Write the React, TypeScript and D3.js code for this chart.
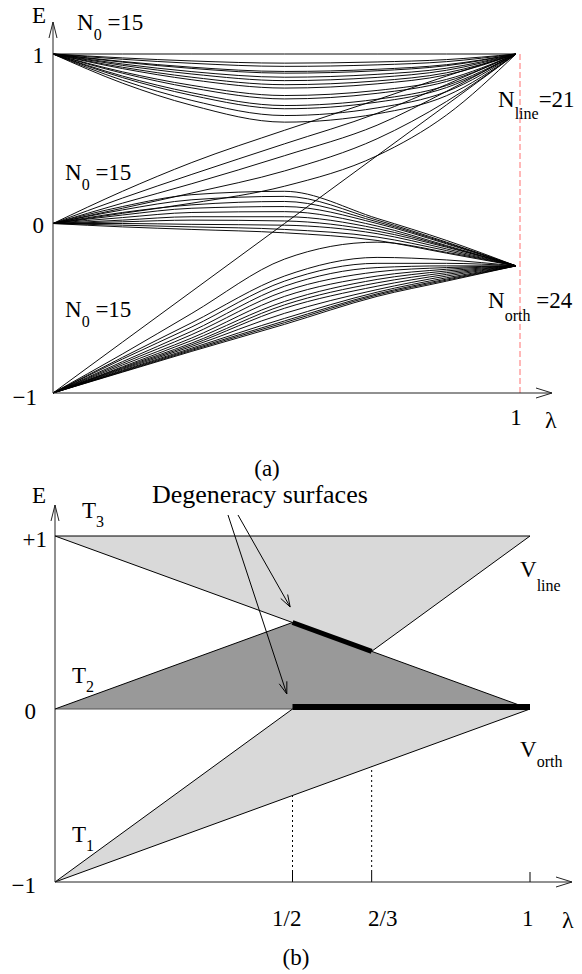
import React from "react";
import * as d3 from "d3";

// lambda grid the levels were read at
const LAMBDA = [0, 0.15, 0.3, 0.5, 0.7, 0.85, 1];

// levels starting at E = 1 (all return to E = 1)
const upperLevels = [
  [1, 1, 1, 1, 1, 1, 1],
  [1, 0.977, 0.959, 0.946, 0.953, 0.967, 1],
  [1, 0.969, 0.945, 0.927, 0.936, 0.955, 1],
  [1, 0.956, 0.922, 0.897, 0.91, 0.937, 1],
  [1, 0.952, 0.915, 0.887, 0.901, 0.931, 1],
  [1, 0.941, 0.896, 0.863, 0.88, 0.916, 1],
  [1, 0.933, 0.882, 0.843, 0.862, 0.904, 1],
  [1, 0.922, 0.863, 0.819, 0.841, 0.889, 1],
  [1, 0.914, 0.848, 0.799, 0.824, 0.877, 1],
  [1, 0.895, 0.815, 0.755, 0.785, 0.85, 1],
  [1, 0.887, 0.8, 0.735, 0.768, 0.838, 1],
  [1, 0.87, 0.771, 0.696, 0.733, 0.814, 1],
  [1, 0.861, 0.756, 0.677, 0.716, 0.802, 1],
  [1, 0.845, 0.726, 0.637, 0.682, 0.778, 1],
  [1, 0.828, 0.697, 0.598, 0.647, 0.754, 1],
];

// levels starting at E = 0 that end at E = 1
const middleRising = [
  [0, 0.19, 0.36, 0.55, 0.73, 0.87, 1],
  [0, 0.15, 0.29, 0.47, 0.65, 0.82, 1],
  [0, 0.12, 0.235, 0.4, 0.58, 0.78, 1],
  [0, 0.09, 0.18, 0.31, 0.5, 0.72, 1],
  [0, 0.06, 0.12, 0.22, 0.4, 0.64, 1],
];

// levels starting at E = 0 that end at E = -1/4
const middleFalling = [
  [0, 0.1, 0.17, 0.19, 0.03, -0.1, -0.25],
  [0, 0.08, 0.14, 0.16, 0.02, -0.11, -0.25],
  [0, 0.065, 0.11, 0.13, 0.01, -0.115, -0.25],
  [0, 0.05, 0.09, 0.1, 0, -0.12, -0.25],
  [0, 0.035, 0.065, 0.07, -0.015, -0.13, -0.25],
  [0, 0.02, 0.04, 0.04, -0.03, -0.135, -0.25],
  [0, 0.01, 0.02, 0.015, -0.045, -0.14, -0.25],
  [0, 0, -0.005, -0.01, -0.06, -0.15, -0.25],
  [0, -0.01, -0.02, -0.035, -0.08, -0.16, -0.25],
  [0, -0.02, -0.035, -0.055, -0.1, -0.175, -0.25],
];

// levels starting at E = -1
const lowerLevels = [
  [-1, -0.77, -0.53, -0.21, -0.11, -0.17, -0.25],
  [-1, -0.79, -0.585, -0.31, -0.2, -0.215, -0.25],
  [-1, -0.8, -0.61, -0.34, -0.235, -0.235, -0.25],
  [-1, -0.815, -0.635, -0.37, -0.26, -0.25, -0.25],
  [-1, -0.825, -0.655, -0.4, -0.285, -0.26, -0.25],
  [-1, -0.835, -0.675, -0.43, -0.31, -0.27, -0.25],
  [-1, -0.845, -0.69, -0.46, -0.33, -0.28, -0.25],
  [-1, -0.85, -0.705, -0.48, -0.35, -0.29, -0.25],
  [-1, -0.855, -0.715, -0.5, -0.37, -0.3, -0.25],
  [-1, -0.86, -0.725, -0.53, -0.39, -0.31, -0.25],
  [-1, -0.866, -0.735, -0.56, -0.405, -0.32, -0.25],
  [-1, -0.87, -0.742, -0.575, -0.415, -0.328, -0.25],
  [-1, -0.874, -0.748, -0.585, -0.422, -0.334, -0.25],
  [-1, -0.877, -0.754, -0.595, -0.43, -0.34, -0.25],
  [-1, -0.7, -0.4, 0, 0.4, 0.7, 1],
];

// panel (b) regions, [lambda, E]
const regionT3: [number, number][] = [[0, 1], [1, 1], [2 / 3, 1 / 3], [0.5, 0.5]];
const regionT2: [number, number][] = [[0, 0], [0.5, 0.5], [1, 0]];
const regionT1: [number, number][] = [[0, -1], [1, 0], [0.5, 0]];
const degeneracySegments: [number, number][][] = [
  [[0.5, 0.5], [2 / 3, 1 / 3]],
  [[0.5, 0], [1, 0]],
];
const blackEdges: [number, number][][] = [
  [[0, 1], [1, 1]],
  [[0, 1], [0.5, 0.5]],
  [[2 / 3, 1 / 3], [1, 1]],
  [[0, 0], [0.5, 0.5]],
  [[0.5, 0.5], [1, 0]],
  [[0, -1], [0.5, 0]],
  [[0, -1], [1, 0]],
];
const bTicks = [
  { v: 0.5, label: "1/2", guide: -0.5 },
  { v: 2 / 3, label: "2/3", guide: -1 / 3 },
  { v: 1, label: "1", guide: null as number | null },
];

const W = 582;
const H = 974;
const FONT = "Liberation Serif, DejaVu Serif, serif";

const xA = d3.scaleLinear().domain([0, 1]).range([53, 516]);
const yA = d3.scaleLinear().domain([-1, 1]).range([393, 54]);
const xB = d3.scaleLinear().domain([0, 1]).range([55, 530]);
const yB = d3.scaleLinear().domain([-1, 1]).range([882, 536]);

const levelLine = d3
  .line<number>()
  .x((_, i) => xA(LAMBDA[i]))
  .y((d) => yA(d))
  .curve(d3.curveMonotoneX);

const bLine = d3
  .line<[number, number]>()
  .x((d) => xB(d[0]))
  .y((d) => yB(d[1]));

function openArrow(x: number, y: number, dx: number, dy: number, len = 14, half = 4) {
  const n = Math.hypot(dx, dy);
  const ux = dx / n;
  const uy = dy / n;
  const bx = x - ux * len;
  const by = y - uy * len;
  return `M${bx - uy * half},${by + ux * half}L${x},${y}L${bx + uy * half},${by - ux * half}`;
}

function T({ x, y, size = 23, anchor = "start", children }: any) {
  return (
    <text x={x} y={y} fontSize={size} textAnchor={anchor} style={{ fontFamily: FONT }}>
      {children}
    </text>
  );
}

function Sub({ x, y, main, sub, tail, dy, size = 23, subSize = 16 }: any) {
  return (
    <text x={x} y={y} fontSize={size} style={{ fontFamily: FONT }}>
      {main}
      <tspan dy={dy} fontSize={subSize}>{sub}</tspan>
      <tspan dy={-dy}>{tail}</tspan>
    </text>
  );
}

export default function App() {
  const allLevels = [...upperLevels, ...middleRising, ...middleFalling, ...lowerLevels];
  const axisColor = "#222";

  return (
    <svg
      width={W}
      height={H}
      style={{ position: "absolute", left: 0, top: 0, background: "#fff" }}
    >
      {/* ---------- panel (a) ---------- */}
      <g>
        {allLevels.map((lv, i) => (
          <path key={i} d={levelLine(lv) || ""} fill="none" stroke="#000" strokeWidth={0.95} />
        ))}
        <line
          x1={xA(1) + 4}
          x2={xA(1) + 4}
          y1={yA(1)}
          y2={yA(-1)}
          stroke="#ff7070"
          strokeWidth={1}
          strokeDasharray="6,3"
        />
        <line x1={xA(0)} x2={xA(0)} y1={yA(-1)} y2={22} stroke={axisColor} strokeWidth={1} />
        <path d={openArrow(xA(0), 22, 0, -1, 16, 4)} fill="none" stroke={axisColor} />
        <line x1={xA(0)} x2={552} y1={yA(-1)} y2={yA(-1)} stroke={axisColor} strokeWidth={1} />
        <path d={openArrow(552, yA(-1), 1, 0, 16, 5)} fill="none" stroke={axisColor} />

        <T x={32} y={23}>E</T>
        <T x={44} y={yA(1) + 9} anchor="end">1</T>
        <T x={44} y={yA(0) + 9} anchor="end">0</T>
        <T x={37} y={yA(-1) + 12} anchor="end">−1</T>
        <T x={xA(1)} y={425} anchor="middle">1</T>
        <T x={545} y={428} size={24}>λ</T>

        <Sub x={77} y={30} main="N" sub="0" tail=" =15" dy={10} />
        <Sub x={65} y={180} main="N" sub="0" tail=" =15" dy={10} />
        <Sub x={65} y={317} main="N" sub="0" tail=" =15" dy={10} />
        <Sub x={498} y={107} main="N" sub="line" tail="=21" dy={12} />
        <Sub x={488} y={308} main="N" sub="orth" tail=" =24" dy={13} />

        <T x={267} y={476} anchor="middle">(a)</T>
      </g>

      {/* ---------- panel (b) ---------- */}
      <g>
        <path d={bLine(regionT3) + "Z"} fill="#d9d9d9" />
        <path d={bLine(regionT2) + "Z"} fill="#999999" />
        <path d={bLine(regionT1) + "Z"} fill="#d9d9d9" />
        <line x1={xB(0)} x2={xB(1)} y1={yB(0)} y2={yB(0)} stroke="#555" strokeWidth={1.2} />
        {blackEdges.map((e, i) => (
          <path key={i} d={bLine(e) || ""} fill="none" stroke="#000" strokeWidth={1} />
        ))}
        {degeneracySegments.map((s, i) => (
          <path
            key={i}
            d={bLine(s) || ""}
            fill="none"
            stroke="#000"
            strokeWidth={i === 0 ? 5 : 6}
            transform={i === 1 ? "translate(0,-2)" : undefined}
          />
        ))}

        {bTicks.map((t) => (
          <g key={t.label}>
            <line x1={xB(t.v)} x2={xB(t.v)} y1={yB(-1)} y2={yB(-1) - 10} stroke="#000" strokeWidth={1} />
            {t.guide !== null && (
              <line
                x1={xB(t.v)}
                x2={xB(t.v)}
                y1={yB(-1) - 10}
                y2={yB(t.guide)}
                stroke="#000"
                strokeWidth={1}
                strokeDasharray="2,3"
              />
            )}
          </g>
        ))}

        <line x1={xB(0)} x2={xB(0)} y1={yB(-1)} y2={505} stroke={axisColor} strokeWidth={1} />
        <path d={openArrow(xB(0), 505, 0, -1, 16, 4)} fill="none" stroke={axisColor} />
        <line x1={xB(0)} x2={572} y1={yB(-1)} y2={yB(-1)} stroke={axisColor} strokeWidth={1} />
        <path d={openArrow(572, yB(-1), 1, 0, 16, 5)} fill="none" stroke={axisColor} />

        <T x={32} y={503}>E</T>
        <T x={47} y={yB(1) + 11} anchor="end">+1</T>
        <T x={36} y={yB(0) + 10} anchor="end">0</T>
        <T x={36} y={yB(-1) + 11} anchor="end">−1</T>
        <T x={272} y={926}>1/2</T>
        <T x={368} y={926}>2/3</T>
        <T x={522} y={926}>1</T>
        <T x={562} y={928} size={24}>λ</T>

        <Sub x={82} y={518} main="T" sub="3" tail="" dy={9} />
        <Sub x={72} y={683} main="T" sub="2" tail="" dy={9} />
        <Sub x={72} y={842} main="T" sub="1" tail="" dy={9} />
        <Sub x={520} y={577} main="V" sub="line" tail="" dy={14} />
        <Sub x={520} y={757} main="V" sub="orth" tail="" dy={10} />

        <T x={152} y={503} size={26}>Degeneracy surfaces</T>
        <line x1={228} y1={515} x2={xB(0.488)} y2={yB(0.087)} stroke="#000" strokeWidth={1} />
        <path
          d={openArrow(xB(0.488), yB(0.087), xB(0.488) - 228, yB(0.087) - 515, 12, 4)}
          fill="none"
          stroke="#000"
        />
        <line x1={238} y1={515} x2={xB(0.495)} y2={yB(0.59)} stroke="#000" strokeWidth={1} />
        <path
          d={openArrow(xB(0.495), yB(0.59), xB(0.495) - 238, yB(0.59) - 515, 12, 4)}
          fill="none"
          stroke="#000"
        />

        <T x={296} y={965} anchor="middle">(b)</T>
      </g>
    </svg>
  );
}
